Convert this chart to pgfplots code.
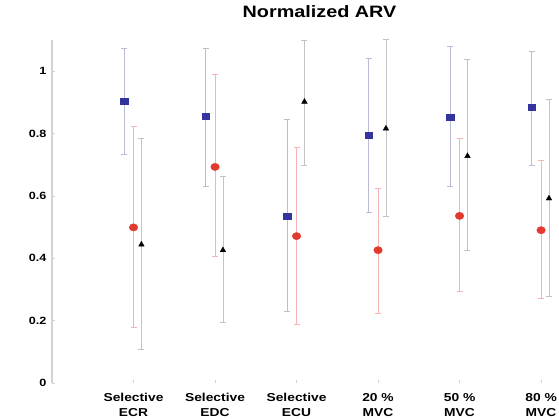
\documentclass[border=0pt]{standalone}
\usepackage{pgfplots}
\pgfplotsset{compat=1.18}
\usepackage{fontspec}
\setmainfont{Liberation Sans}[FakeStretch=1.2]
\definecolor{mblue}{RGB}{52,52,158}
\definecolor{mred}{RGB}{226,58,46}
\definecolor{eblue}{RGB}{185,187,215}
\definecolor{ered}{RGB}{245,180,180}
\definecolor{eblack}{RGB}{195,195,195}
\definecolor{axgray}{RGB}{210,210,210}
\begin{document}
\begin{tikzpicture}
\begin{axis}[
  scale only axis, width=507pt, height=343pt,
  at={(0,0)}, anchor=south west,
  xmin=0, xmax=6.22, ymin=0, ymax=1.1,
  clip=false,
  axis lines*=left,
  x axis line style={draw=none},
  y axis line style={draw=axgray, line width=1.2pt},
  xtick={1,2,3,4,5,6},
  xticklabels={{Selective\\ECR},{Selective\\EDC},{Selective\\ECU},{20 \%\\MVC},{50 \%\\MVC},{80 \%\\MVC}},
  xticklabel style={align=center, font=\bfseries\fontsize{11.5}{14.5}\selectfont, yshift=-7pt},
  ytick={0,0.2,0.4,0.6,0.8,1},
  yticklabels={0,0.2,0.4,0.6,0.8,1},
  yticklabel style={font=\bfseries\fontsize{10.5}{12}\selectfont, xshift=-2pt},
  tick style={draw=axgray, line width=0.5pt},
  major tick length=3pt,
  tick align=inside,
  title={Normalized ARV},
  title style={at={(0.5,1)}, anchor=center, yshift=22pt, xshift=14pt, font=\bfseries\fontsize{16.5}{18}\selectfont},
  /pgf/number format/assume math mode=true,
]
% blue squares
\addplot[only marks, mark=square*, mark size=3.6pt, mark options={fill=mblue, draw=mblue, yscale=0.85},
  error bars/.cd, y dir=both, y explicit,
  error bar style={draw=eblue, line width=0.8pt},
  error mark options={rotate=90, mark size=3pt, draw=eblue, line width=0.6pt}]
coordinates {
(0.885,0.904) += (0,0.168) -= (0,0.170)
(1.885,0.856) += (0,0.216) -= (0,0.224)
(2.885,0.535) += (0,0.310) -= (0,0.306)
(3.885,0.794) += (0,0.246) -= (0,0.245)
(4.885,0.852) += (0,0.229) -= (0,0.220)
(5.885,0.884) += (0,0.181) -= (0,0.187)
};
% red circles
\addplot[only marks, mark=*, mark size=4.3pt, mark options={fill=mred, draw=mred, yscale=0.85},
  error bars/.cd, y dir=both, y explicit,
  error bar style={draw=ered, line width=0.8pt},
  error mark options={rotate=90, mark size=3pt, draw=ered, line width=0.6pt}]
coordinates {
(1,0.499) += (0,0.323) -= (0,0.319)
(2,0.693) += (0,0.296) -= (0,0.288)
(3,0.471) += (0,0.284) -= (0,0.282)
(4,0.426) += (0,0.198) -= (0,0.201)
(5,0.536) += (0,0.248) -= (0,0.243)
(6,0.490) += (0,0.223) -= (0,0.219)
};
% black triangles
\addplot[only marks, mark=triangle*, mark size=3.2pt, mark options={fill=black, draw=black},
  error bars/.cd, y dir=both, y explicit,
  error bar style={draw=eblack, line width=0.8pt},
  error mark options={rotate=90, mark size=3pt, draw=eblack, line width=0.6pt}]
coordinates {
(1.097,0.444) += (0,0.342) -= (0,0.336)
(2.097,0.426) += (0,0.237) -= (0,0.230)
(3.097,0.902) += (0,0.197) -= (0,0.203)
(4.097,0.816) += (0,0.285) -= (0,0.281)
(5.097,0.728) += (0,0.309) -= (0,0.304)
(6.097,0.592) += (0,0.318) -= (0,0.313)
};
\end{axis}
\pgfresetboundingbox
\path[use as bounding box] (-52pt,-35pt) rectangle (507pt,383pt);
\end{tikzpicture}
\end{document}
